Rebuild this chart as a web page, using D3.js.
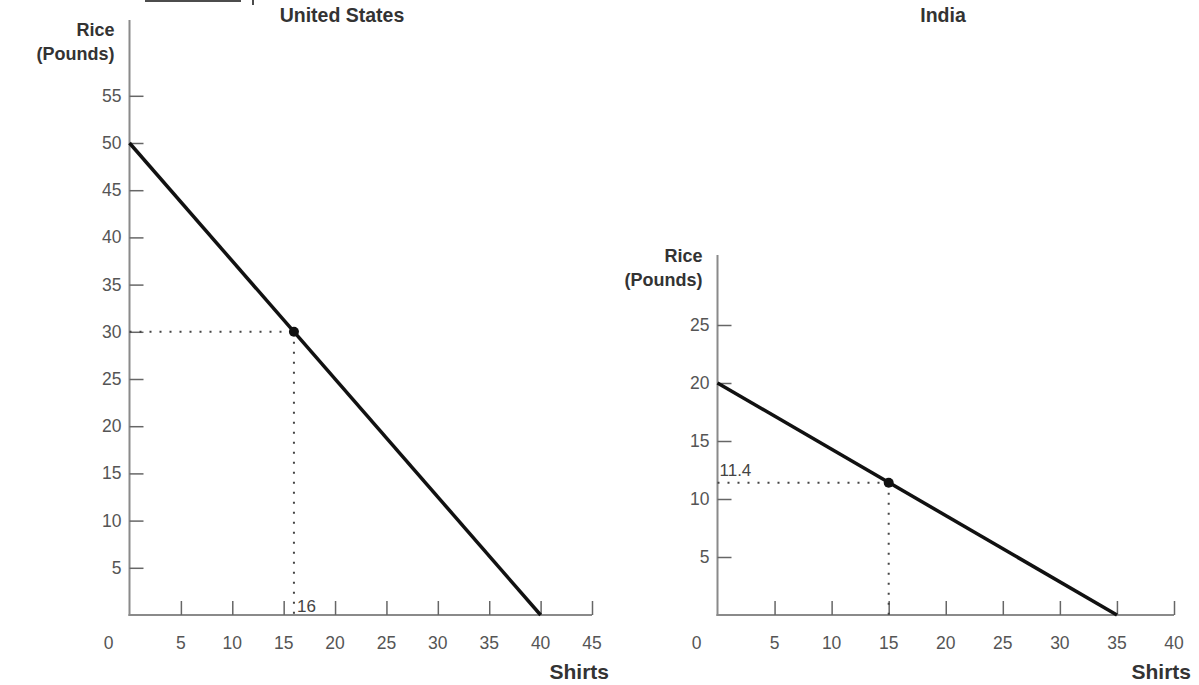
<!DOCTYPE html>
<html>
<head>
<meta charset="utf-8">
<script src="https://cdn.jsdelivr.net/npm/d3@7"></script>
<style>
  body { margin: 0; background: #fff; }
  svg { display: block; }
  text { font-family: "Liberation Sans", Arial, sans-serif; }
</style>
</head>
<body>
<svg id="chart" width="1199" height="685"></svg>
<script>
// ---- Data ----
const usTitle = "United States";
const usXTicks = [5, 10, 15, 20, 25, 30, 35, 40, 45];
const usYTicks = [5, 10, 15, 20, 25, 30, 35, 40, 45, 50, 55];
const usPPF = [[0, 50], [40, 0]];          // [shirts, rice]
const usPoint = [16, 30];
const usPointLabel = "16";

const inTitle = "India";
const inXTicks = [5, 10, 15, 20, 25, 30, 35, 40];
const inYTicks = [5, 10, 15, 20, 25];
const inPPF = [[0, 20], [35, 0]];
const inPoint = [15, 11.4];
const inPointLabel = "11.4";

const xLabel = "Shirts";
const yLabel1 = "Rice";
const yLabel2 = "(Pounds)";

const svg = d3.select("#chart");

// cropped text fragment at top
svg.append("line").attr("x1", 145).attr("x2", 241).attr("y1", 1).attr("y2", 1)
  .attr("stroke", "#111").attr("stroke-width", 1.5);
svg.append("line").attr("x1", 253).attr("x2", 253).attr("y1", 0).attr("y2", 5)
  .attr("stroke", "#111").attr("stroke-width", 1.5);

function panel(cfg) {
  const g = svg.append("g");
  const x = d3.scaleLinear().domain([0, cfg.xMax]).range([cfg.x0, cfg.x1]);
  const y = d3.scaleLinear().domain([0, cfg.yRef]).range([cfg.y0, cfg.yRefPx]);
  const axisColor = "#8a8a8a";
  const labColor = "#555";

  // title
  g.append("text").attr("x", cfg.titleX).attr("y", 22).attr("text-anchor", "middle")
    .attr("font-size", 19.5).attr("font-weight", "bold").attr("fill", "#333").text(cfg.title);

  // x axis
  const xa = g.append("g").attr("transform", `translate(0,${cfg.y0})`)
    .call(d3.axisTop(x).tickValues(cfg.xTicks).tickSize(14).tickSizeOuter(0).tickFormat(""));
  xa.select(".domain").attr("stroke", axisColor).attr("stroke-width", 2)
    .attr("d", `M${cfg.x0 - 1},0H${x(cfg.xMax)}`);
  xa.selectAll(".tick line").attr("stroke", "#666").attr("stroke-width", 1.5);
  // x tick labels (below)
  g.selectAll(".xl").data([0].concat(cfg.xTicks)).enter().append("text")
    .attr("x", d => d === 0 ? cfg.x0 - 21 : x(d)).attr("y", cfg.y0 + 34)
    .attr("text-anchor", "middle").attr("font-size", 17.5).attr("fill", labColor).text(d => d);

  // y axis
  const ya = g.append("g").attr("transform", `translate(${cfg.x0},0)`)
    .call(d3.axisRight(y).tickValues(cfg.yTicks).tickSize(14).tickSizeOuter(0).tickFormat(""));
  ya.select(".domain").attr("stroke", axisColor).attr("stroke-width", 2)
    .attr("d", `M0,${cfg.yTop}V${cfg.y0 + 1}`);
  ya.selectAll(".tick line").attr("stroke", "#666").attr("stroke-width", 1.5);
  g.selectAll(".yl").data(cfg.yTicks).enter().append("text")
    .attr("x", cfg.x0 - 8).attr("y", d => y(d) + 6)
    .attr("text-anchor", "end").attr("font-size", 17.5).attr("fill", labColor).text(d => d);

  // y label
  g.append("text").attr("x", cfg.x0 - 15).attr("y", cfg.yLabY).attr("text-anchor", "end")
    .attr("font-size", 18).attr("font-weight", "bold").attr("fill", "#333").text(yLabel1);
  g.append("text").attr("x", cfg.x0 - 15).attr("y", cfg.yLabY + 24).attr("text-anchor", "end")
    .attr("font-size", 18).attr("font-weight", "bold").attr("fill", "#333").text(yLabel2);

  // x label
  g.append("text").attr("x", x(cfg.xMax) + 17).attr("y", cfg.y0 + 64).attr("text-anchor", "end")
    .attr("font-size", 21).attr("font-weight", "bold").attr("fill", "#333").text(xLabel);

  // dotted guides
  const [px, py] = cfg.point;
  g.append("line").attr("x1", cfg.x0).attr("x2", x(px)).attr("y1", y(py)).attr("y2", y(py))
    .attr("stroke", "#444").attr("stroke-width", 2).attr("stroke-dasharray", "2,8");
  g.append("line").attr("x1", x(px)).attr("x2", x(px)).attr("y1", y(py)).attr("y2", cfg.y0)
    .attr("stroke", "#444").attr("stroke-width", 2).attr("stroke-dasharray", "2,8");

  // PPF line
  g.append("path").datum(cfg.ppf)
    .attr("d", d3.line().x(d => x(d[0])).y(d => y(d[1])))
    .attr("fill", "none").attr("stroke", "#111").attr("stroke-width", 3.5);

  // point
  g.append("circle").attr("cx", x(px)).attr("cy", y(py)).attr("r", 5).attr("fill", "#111");

  // point label
  if (cfg.labelOnX) {
    g.append("text").attr("x", x(px) + 3).attr("y", cfg.y0 - 3)
      .attr("font-size", 17).attr("fill", "#444").text(cfg.pointLabel);
  } else {
    g.append("text").attr("x", cfg.x0 + 2).attr("y", y(py) - 7)
      .attr("font-size", 17).attr("fill", "#444").text(cfg.pointLabel);
  }
}

panel({
  title: usTitle, titleX: 342,
  xMax: 45, x0: 129.5, x1: 592,
  yRef: 50, y0: 615, yRefPx: 143, yTop: 20,
  xTicks: usXTicks, yTicks: usYTicks,
  ppf: usPPF, point: usPoint, pointLabel: usPointLabel, labelOnX: true,
  yLabY: 36
});

panel({
  title: inTitle, titleX: 943,
  xMax: 40, x0: 717.5, x1: 1174,
  yRef: 20, y0: 615, yRefPx: 383, yTop: 255,
  xTicks: inXTicks, yTicks: inYTicks,
  ppf: inPPF, point: inPoint, pointLabel: inPointLabel, labelOnX: false,
  yLabY: 262
});
</script>
</body>
</html>
